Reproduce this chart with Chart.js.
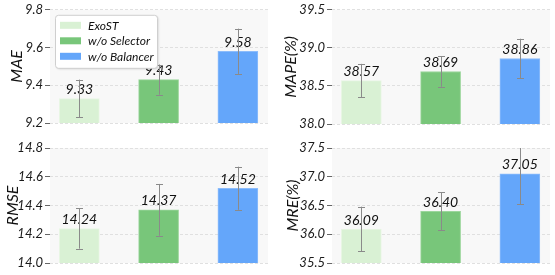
<!DOCTYPE html>
<html>
<head>
<meta charset="utf-8">
<script src="https://cdn.jsdelivr.net/npm/chart.js@4.4.1/dist/chart.umd.min.js"></script>
<style>
  body { margin: 0; background: #fff; width: 555px; height: 275px; position: relative; overflow: hidden; }
  canvas { position: absolute; }
</style>
</head>
<body>
<canvas id="mae" width="275" height="135" style="left:0;top:0"></canvas>
<canvas id="mape" width="280" height="135" style="left:275px;top:0"></canvas>
<canvas id="rmse" width="275" height="140" style="left:0;top:135px"></canvas>
<canvas id="mre" width="280" height="140" style="left:275px;top:135px"></canvas>
<script>
const variants = ['ExoST', 'w/o Selector', 'w/o Balancer'];
const barColors = ['#d9f1d4', '#78c67a', '#64a6fa'];
const barEdges = ['#e8f6e4', '#9bd69c', '#8cbcfb'];

const maeValues = [9.33, 9.43, 9.58];
const maeErrors = [0.10, 0.08, 0.12];
const mapeValues = [38.57, 38.69, 38.86];
const mapeErrors = [0.22, 0.20, 0.26];
const rmseValues = [14.24, 14.37, 14.52];
const rmseErrors = [0.14, 0.18, 0.15];
const mreValues = [36.09, 36.40, 37.05];
const mreErrors = [0.39, 0.33, 0.53];

const FONT = 'Lato';

// background, value labels, error bars and (optionally) the legend
const decoPlugin = {
  id: 'deco',
  beforeDraw(chart) {
    const a = chart.chartArea, ctx = chart.ctx;
    ctx.save();
    ctx.fillStyle = '#f8f8f8';
    ctx.fillRect(a.left, a.top, a.right - a.left, a.bottom - a.top);
    ctx.restore();
  },
  afterDatasetsDraw(chart) {
    const o = chart.options.plugins.deco;
    const ctx = chart.ctx, xs = chart.scales.x, ys = chart.scales.y, a = chart.chartArea;
    ctx.save();
    // value labels
    ctx.font = 'italic 14px ' + FONT;
    ctx.fillStyle = '#111';
    ctx.textAlign = 'center';
    ctx.textBaseline = 'bottom';
    o.values.forEach((v, i) => {
      ctx.fillText(v.toFixed(2), xs.getPixelForValue(i), ys.getPixelForValue(v) - 2);
    });
    // error bars
    ctx.beginPath();
    ctx.rect(a.left, a.top, a.right - a.left, a.bottom - a.top);
    ctx.clip();
    ctx.strokeStyle = '#8a8a8a';
    ctx.lineWidth = 1;
    o.values.forEach((v, i) => {
      const x = Math.round(xs.getPixelForValue(i)) + 0.5;
      const lo = ys.getPixelForValue(v - o.errors[i]);
      const hi = ys.getPixelForValue(v + o.errors[i]);
      ctx.beginPath();
      ctx.moveTo(x, lo); ctx.lineTo(x, hi);
      ctx.moveTo(x - 3.5, Math.round(lo) + 0.5); ctx.lineTo(x + 3.5, Math.round(lo) + 0.5);
      ctx.moveTo(x - 3.5, Math.round(hi) + 0.5); ctx.lineTo(x + 3.5, Math.round(hi) + 0.5);
      ctx.stroke();
    });
    ctx.restore();

    if (o.legend) {
      ctx.save();
      const lx = a.left + 5, ly = a.top + 5, lw = 102, lh = 53;
      ctx.shadowColor = 'rgba(0,0,0,0.15)';
      ctx.shadowBlur = 2;
      ctx.shadowOffsetX = 1;
      ctx.shadowOffsetY = 1;
      ctx.fillStyle = '#fff';
      ctx.beginPath();
      ctx.roundRect(lx + 0.5, ly + 0.5, lw, lh, 3);
      ctx.fill();
      ctx.shadowColor = 'transparent';
      ctx.strokeStyle = '#cfcfcf';
      ctx.stroke();
      ctx.font = 'italic 12px ' + FONT;
      ctx.fillStyle = '#111';
      ctx.textAlign = 'left';
      ctx.textBaseline = 'middle';
      variants.forEach((name, i) => {
        const cy = ly + 10 + i * 15.5;
        ctx.fillStyle = barColors[i];
        ctx.fillRect(lx + 5, cy - 3, 21, 7);
        ctx.fillStyle = '#111';
        ctx.fillText(name, lx + 33, cy + 1);
      });
      ctx.restore();
    }
  }
};

function makePanel(id, title, values, errors, min, max, step, pad, legend) {
  new Chart(document.getElementById(id), {
    type: 'bar',
    data: {
      datasets: [{
        data: values.map((v, i) => ({ x: i, y: v })),
        backgroundColor: barColors,
        borderColor: barEdges,
        borderWidth: 1,
        barThickness: 40
      }]
    },
    options: {
      responsive: false,
      animation: false,
      devicePixelRatio: 1,
      events: [],
      layout: { padding: pad },
      plugins: {
        legend: { display: false },
        tooltip: { enabled: false },
        deco: { values: values, errors: errors, legend: legend }
      },
      scales: {
        x: { type: 'linear', min: -0.37, max: 2.38, offset: false, display: false },
        y: {
          min: min, max: max,
          afterFit: s => { s.width = pad.axis; },
          ticks: {
            stepSize: step,
            callback: v => v.toFixed(1),
            font: { family: FONT, style: 'italic', size: 13 },
            color: '#1a1a1a',
            padding: 2
          },
          grid: { color: '#e0e0e0', tickColor: '#666', tickLength: 5, drawTicks: true },
          border: { display: false, dash: [3, 2] },
          title: {
            display: true, text: title, color: '#111',
            font: { family: FONT, style: 'italic', size: 16 },
            padding: { top: 0, bottom: 3 }
          }
        }
      }
    },
    plugins: [decoPlugin]
  });
}

makePanel('mae', 'MAE', maeValues, maeErrors, 9.2, 9.8, 0.2,
  { left: 7, right: 7, top: 8, bottom: 12, axis: 43 }, true);
makePanel('mape', 'MAPE(%)', mapeValues, mapeErrors, 38.0, 39.5, 0.5,
  { left: 6, right: 5, top: 8, bottom: 11, axis: 51 }, false);
makePanel('rmse', 'RMSE', rmseValues, rmseErrors, 14.0, 14.8, 0.2,
  { left: 3, right: 7, top: 13, bottom: 12, axis: 47 }, false);
makePanel('mre', 'MRE(%)', mreValues, mreErrors, 35.5, 37.5, 0.5,
  { left: 8, right: 5, top: 13, bottom: 12, axis: 49 }, false);
</script>
</body>
</html>
